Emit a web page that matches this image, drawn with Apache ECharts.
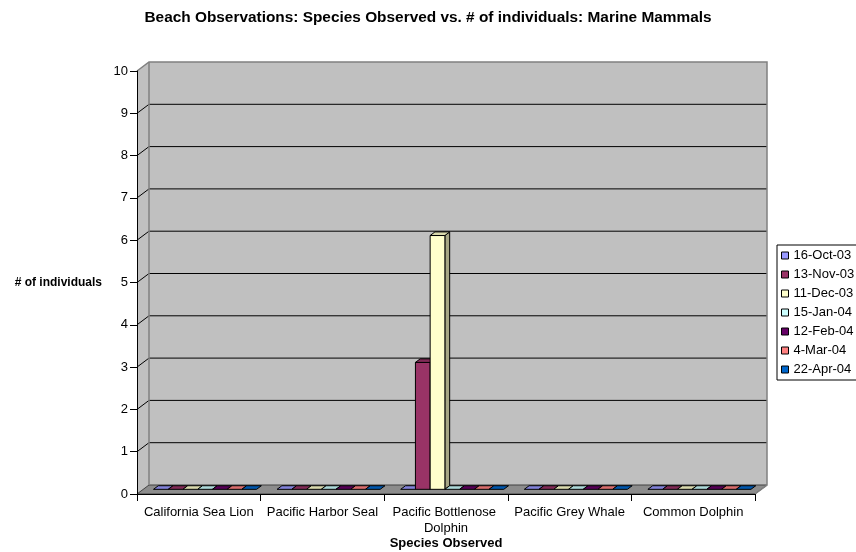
<!DOCTYPE html>
<html>
<head>
<meta charset="utf-8">
<script src="https://cdn.jsdelivr.net/npm/echarts@6/dist/echarts.min.js"></script>
<style>
  html, body { margin: 0; padding: 0; background: #fff; }
  #chart { width: 856px; height: 552px; }
</style>
</head>
<body>
<div id="chart"></div>
<script>
// Species on the category axis
const categories = ['California Sea Lion', 'Pacific Harbor Seal', 'Pacific Bottlenose Dolphin', 'Pacific Grey Whale', 'Common Dolphin'];
// Observation dates (one series per date)
const dates = ['16-Oct-03', '13-Nov-03', '11-Dec-03', '15-Jan-04', '12-Feb-04', '4-Mar-04', '22-Apr-04'];
// Individuals counted per species on each date
const oct16 = [0, 0, 0, 0, 0];
const nov13 = [0, 0, 3, 0, 0];
const dec11 = [0, 0, 6, 0, 0];
const jan15 = [0, 0, 0, 0, 0];
const feb12 = [0, 0, 0, 0, 0];
const mar4  = [0, 0, 0, 0, 0];
const apr22 = [0, 0, 0, 0, 0];
// Value axis tick labels
const yTicks = [0, 1, 2, 3, 4, 5, 6, 7, 8, 9, 10];

const seriesValues = [oct16, nov13, dec11, jan15, feb12, mar4, apr22];
const colors = ['#9999FF', '#993366', '#FFFFCC', '#CCFFFF', '#660066', '#FF8080', '#0066CC'];

const FONT = 'Liberation Sans, Arial, sans-serif';
// Oblique depth of the plot box (front plane -> back wall)
const DX = 12, DY = -9;
// Bars sit between these fractions of the box depth
const BAR_T0 = 0.52, BAR_T1 = 0.92;
// Share of a category occupied by its bar group
const GROUP = 0.834;

function shade(hex, f) {
  const n = parseInt(hex.slice(1), 16);
  const r = Math.round(((n >> 16) & 255) * f);
  const g = Math.round(((n >> 8) & 255) * f);
  const b = Math.round((n & 255) * f);
  return 'rgb(' + r + ',' + g + ',' + b + ')';
}

function renderWalls(params, api) {
  const cs = params.coordSys;
  const L = cs.x, R = cs.x + cs.width, T = cs.y, B = cs.y + cs.height;
  const children = [];
  // side wall
  children.push({ type: 'polygon', shape: { points: [[L, T], [L + DX, T + DY], [L + DX, B + DY], [L, B]] },
    style: { fill: '#C0C0C0', stroke: null } });
  // back wall
  children.push({ type: 'rect', shape: { x: L + DX, y: T + DY, width: cs.width, height: cs.height },
    style: { fill: '#C0C0C0', stroke: null } });
  // floor
  children.push({ type: 'polygon', shape: { points: [[L, B], [L + DX, B + DY], [R + DX, B + DY], [R, B]] },
    style: { fill: '#8C8C8C', stroke: '#404040', lineWidth: 1 } });
  // gridlines: diagonal on the side wall, horizontal on the back wall
  const yMax = yTicks[yTicks.length - 1];
  for (let i = 1; i < yTicks.length - 1; i++) {
    const y = api.coord([0, yTicks[i]])[1];
    children.push({ type: 'polyline', shape: { points: [[L, y], [L + DX, y + DY], [R + DX, y + DY]] },
      style: { stroke: '#000', lineWidth: 1, fill: null } });
  }
  // wall edges
  const yTop = api.coord([0, yMax])[1];
  children.push({ type: 'polyline', shape: { points: [[L, yTop], [L + DX, yTop + DY], [R + DX, yTop + DY], [R + DX, B + DY], [R, B]] },
    style: { stroke: '#808080', lineWidth: 1.5, fill: null } });
  children.push({ type: 'line', shape: { x1: L + DX, y1: T + DY, x2: L + DX, y2: B + DY },
    style: { stroke: '#808080', lineWidth: 1.5 } });
  return { type: 'group', children: children };
}

function makeBarRenderer(s) {
  return function (params, api) {
    const cat = api.value(0), val = api.value(1);
    const base = api.coord([cat, 0]);
    const top = api.coord([cat, val]);
    const catW = api.size([1, 0])[0];
    const bw = catW * GROUP / seriesValues.length;
    const x0 = base[0] - catW * GROUP / 2 + s * bw + DX * BAR_T0;
    const yb = base[1] + DY * BAR_T0;
    const yt = top[1] + DY * BAR_T0;
    const ddx = DX * (BAR_T1 - BAR_T0), ddy = DY * (BAR_T1 - BAR_T0);
    const c = colors[s];
    const children = [];
    if (yb - yt > 0.5) {
      children.push({ type: 'polygon', shape: { points: [[x0 + bw, yt], [x0 + bw + ddx, yt + ddy], [x0 + bw + ddx, yb + ddy], [x0 + bw, yb]] },
        style: { fill: shade(c, 0.65), stroke: '#000', lineWidth: 1 } });
      children.push({ type: 'rect', shape: { x: x0, y: yt, width: bw, height: yb - yt },
        style: { fill: c, stroke: '#000', lineWidth: 1 } });
    }
    children.push({ type: 'polygon', shape: { points: [[x0, yt], [x0 + bw, yt], [x0 + bw + ddx, yt + ddy], [x0 + ddx, yt + ddy]] },
      style: { fill: shade(c, 0.85), stroke: '#000', lineWidth: 1 } });
    return { type: 'group', children: children };
  };
}

const series = [{
  type: 'custom',
  name: 'walls',
  z: -1,
  silent: true,
  renderItem: renderWalls,
  data: [[0, 0]]
}];
dates.forEach(function (d, s) {
  series.push({
    type: 'custom',
    name: d,
    z: 2,
    itemStyle: { color: colors[s], borderColor: '#000', borderWidth: 1 },
    renderItem: makeBarRenderer(s),
    data: seriesValues[s].map(function (v, i) { return [i, v]; })
  });
});

const chart = echarts.init(document.getElementById('chart'), null, { renderer: 'canvas' });
chart.setOption({
  animation: false,
  backgroundColor: '#fff',
  title: {
    text: 'Beach Observations: Species Observed vs. # of individuals: Marine Mammals',
    left: 'center',
    top: 5,
    textStyle: { fontFamily: FONT, fontSize: 15.4, fontWeight: 'bold', color: '#000' }
  },
  legend: {
    data: dates,
    orient: 'vertical',
    left: 777,
    top: 245,
    padding: [4, 4, 4, 4],
    itemWidth: 7,
    itemHeight: 7,
    itemGap: 6,
    icon: 'rect',
    borderColor: '#000',
    borderWidth: 1,
    itemStyle: { borderColor: '#000', borderWidth: 1 },
    textStyle: { fontFamily: FONT, fontSize: 13, color: '#000' }
  },
  grid: { left: 137, right: 101, top: 71, bottom: 58, containLabel: false, outerBoundsMode: 'none' },
  xAxis: {
    type: 'category',
    data: categories,
    name: 'Species Observed',
    nameLocation: 'middle',
    nameGap: 43,
    nameMoveOverlap: false,
    nameTextStyle: { fontFamily: FONT, fontSize: 13, fontWeight: 'bold', color: '#000' },
    axisLine: { show: true, lineStyle: { color: '#000', width: 1 } },
    axisTick: { show: true, length: 7, lineStyle: { color: '#000' } },
    axisLabel: { fontFamily: FONT, fontSize: 13, color: '#000', margin: 10, width: 122, overflow: 'break', lineHeight: 16, interval: 0 },
    splitLine: { show: false }
  },
  yAxis: {
    type: 'value',
    min: yTicks[0],
    max: yTicks[yTicks.length - 1],
    interval: yTicks[1] - yTicks[0],
    name: '# of individuals',
    nameLocation: 'middle',
    nameRotate: 0,
    nameGap: 35,
    nameMoveOverlap: false,
    nameTextStyle: { fontFamily: FONT, fontSize: 12, fontWeight: 'bold', color: '#000', align: 'right' },
    axisLine: { show: true, lineStyle: { color: '#000', width: 1 } },
    axisTick: { show: true, length: 7, lineStyle: { color: '#000' } },
    axisLabel: { fontFamily: FONT, fontSize: 13, color: '#000', margin: 9 },
    splitLine: { show: false }
  },
  series: series
});
</script>
</body>
</html>
